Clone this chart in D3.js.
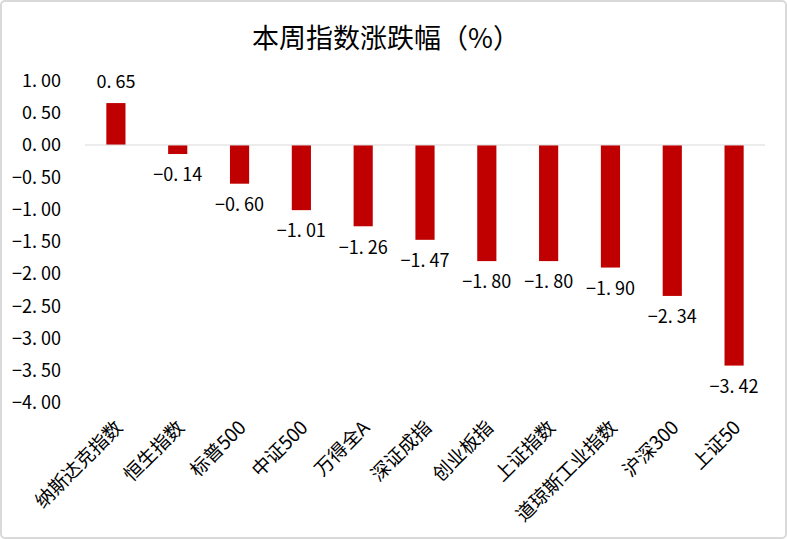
<!DOCTYPE html>
<html>
<head>
<meta charset="utf-8">
<script src="https://cdn.jsdelivr.net/npm/d3@7"></script>
<style>
  body { margin: 0; background: #fff; }
  svg { display: block; }
  text { font-family: "Noto Sans CJK SC", "DejaVu Sans", sans-serif; fill: #000; }
</style>
</head>
<body>
<svg id="chart" width="787" height="539"></svg>
<script>
const categories = ["纳斯达克指数", "恒生指数", "标普500", "中证500", "万得全A", "深证成指", "创业板指", "上证指数", "道琼斯工业指数", "沪深300", "上证50"];
const values = [0.65, -0.14, -0.60, -1.01, -1.26, -1.47, -1.80, -1.80, -1.90, -2.34, -3.42];
const yTicks = [1, 0.5, 0, -0.5, -1, -1.5, -2, -2.5, -3, -3.5, -4];

const svg = d3.select("#chart");
const width = 787, height = 539;

// 外枠
svg.append("rect")
    .attr("x", 1).attr("y", 1)
    .attr("width", width - 2).attr("height", height - 2)
    .attr("rx", 4)
    .attr("fill", "#fff")
    .attr("stroke", "#d9d9d9")
    .attr("stroke-width", 2);

svg.append("text")
    .attr("x", 386).attr("y", 48)
    .attr("text-anchor", "middle")
    .style("font-size", "27px")
    .text("本周指数涨跌幅（%）");

const x = d3.scaleBand().domain(categories).range([85, 765]).paddingInner(0.69).paddingOuter(0.345);
const y = d3.scaleLinear().domain([-4, 1]).range([403, 80.5]);

const fmt = d => d.toFixed(2).replace("-", "−").replace(".", ". ");

// y axis labels
svg.append("g").selectAll("text")
    .data(yTicks)
    .join("text")
    .attr("x", 61)
    .attr("y", d => y(d))
    .attr("dy", "0.35em")
    .attr("text-anchor", "end")
    .style("font-size", "18px")
    .style("white-space", "pre")
    .text(fmt);

// bars
svg.append("g").selectAll("rect")
    .data(values)
    .join("rect")
    .attr("x", (d, i) => x(categories[i]))
    .attr("width", x.bandwidth())
    .attr("y", d => y(Math.max(0, d)))
    .attr("height", d => Math.abs(y(d) - y(0)))
    .attr("fill", "#c00000");

// zero line
svg.append("line")
    .attr("x1", 85).attr("x2", 765)
    .attr("y1", y(0)).attr("y2", y(0))
    .attr("stroke", "#d9d9d9")
    .attr("stroke-width", 1);

// value labels
svg.append("g").selectAll("text")
    .data(values)
    .join("text")
    .attr("x", (d, i) => x(categories[i]) + x.bandwidth() / 2)
    .attr("y", d => d >= 0 ? y(d) - 21 : y(d) + 21)
    .attr("dy", "0.35em")
    .attr("text-anchor", "middle")
    .style("font-size", "18px")
    .style("white-space", "pre")
    .text(fmt);

// category labels
svg.append("g").selectAll("text")
    .data(categories)
    .join("text")
    .attr("transform", d => `translate(${x(d) + x.bandwidth() / 2 + 3},${424}) rotate(-45)`)
    .attr("text-anchor", "end")
    .attr("dy", "0.35em")
    .style("font-size", "19px")
    .text(d => d);
</script>
</body>
</html>
